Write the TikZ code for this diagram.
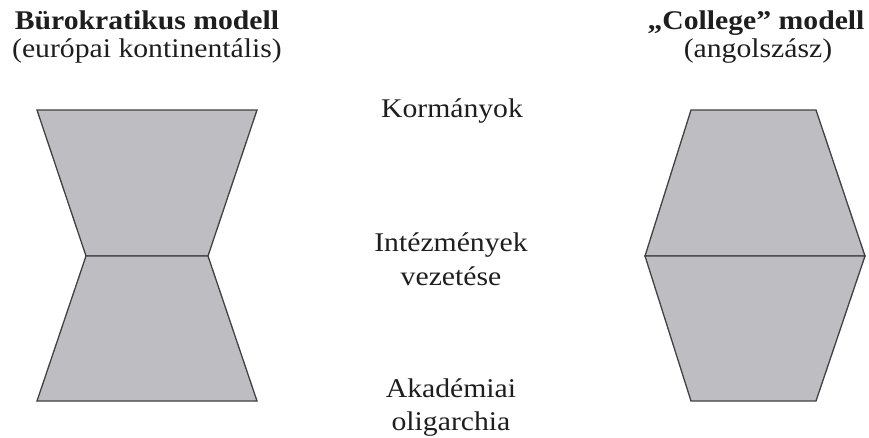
\documentclass[tikz,border=0pt]{standalone}
\usepackage{fontspec}
\setmainfont{Liberation Serif}[FakeStretch=1.1]
\definecolor{shapefill}{RGB}{190,190,194}
\definecolor{shapeline}{RGB}{65,65,65}
\definecolor{txt}{RGB}{30,30,30}
\begin{document}
\begin{tikzpicture}[x=1pt,y=-1pt,
  lbl/.style={anchor=base,inner sep=0pt,font=\fontsize{27}{34}\selectfont,text=txt},
  ttl/.style={lbl,font=\fontsize{27}{34}\selectfont\bfseries},
  blk/.style={fill=shapefill,draw=shapeline,line width=1.3pt,line join=miter}]
\useasboundingbox (0,0) rectangle (869,437);
% left shape
\draw[blk] (37,110) -- (257,110) -- (208,256) -- (86,256) -- cycle;
\draw[blk] (86,256) -- (208,256) -- (257,401) -- (37,401) -- cycle;
% right shape
\draw[blk] (691,110) -- (816,110) -- (865,256) -- (645,256) -- cycle;
\draw[blk] (645,256) -- (865,256) -- (816,401) -- (691,401) -- cycle;
% titles
\node[ttl] (t1) at (147,29) {Bürokratikus modell};
\node[lbl] (s1) at (147,57) {(európai kontinentális)};
\node[ttl] (t2) at (756,29) {„College” modell};
\node[lbl] (s2) at (758,57) {(angolszász)};
% middle labels
\node[lbl] (k) at (452,117) {Kormányok};
\node[lbl] (i1) at (451,251) {Intézmények};
\node[lbl] (i2) at (451,285) {vezetése};
\node[lbl] (a1) at (451,397) {Akadémiai};
\node[lbl] (a2) at (451,430) {oligarchia};
\end{tikzpicture}
\end{document}
